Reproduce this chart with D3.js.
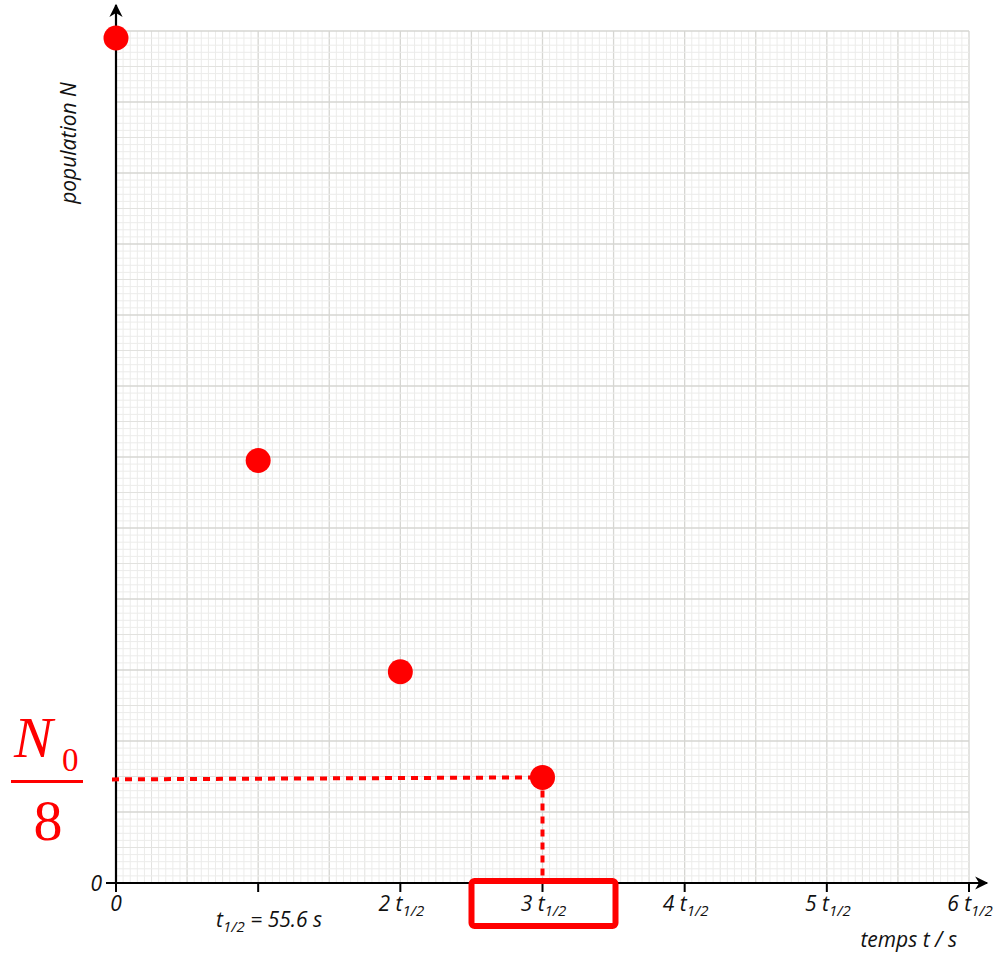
<!DOCTYPE html>
<html>
<head>
<meta charset="utf-8">
<script src="https://cdn.jsdelivr.net/npm/d3@7"></script>
<style>
  body { margin: 0; background: #fff; }
</style>
</head>
<body>
<div id="chart"></div>
<script>
// decay of a population, sampled every half-life
var halfLives = [0, 1, 2, 3];                 // t in units of t1/2
var population = [1, 0.5, 0.25, 0.125];       // N / N0
var tickValues = [0, 1, 2, 3, 4, 5, 6];
var tickLabels = ["0", "", "2", "3", "4", "5", "6"];
var highlightIndex = 3;

var sans = "'Open Sans', sans-serif";
var serif = "'Liberation Serif', serif";

var svg = d3.select("#chart").append("svg")
    .attr("width", 1002)
    .attr("height", 956);

// scales
var x = d3.scaleLinear().domain([0, 6]).range([116, 969]);
var y = d3.scaleLinear().domain([0, 1]).range([883, 38]);
// graph paper: 120 minor squares each way
var gx = d3.scaleLinear().domain([0, 120]).range([116, 969]);
var gy = d3.scaleLinear().domain([0, 120]).range([883, 31]);

// graph paper grid
var grid = svg.append("g");
var steps = d3.range(0, 121);
var gridColor = d => d % 10 == 0 ? "#d6d6d2" : (d % 5 == 0 ? "#e2e2df" : "#ececea");
grid.selectAll("line.vx")
    .data(steps)
    .join("line")
    .attr("x1", d => gx(d)).attr("x2", d => gx(d))
    .attr("y1", gy(0)).attr("y2", gy(120))
    .attr("stroke", gridColor)
    .attr("stroke-width", d => d % 10 == 0 ? 1.3 : 1);
grid.selectAll("line.hy")
    .data(steps)
    .join("line")
    .attr("y1", d => gy(d)).attr("y2", d => gy(d))
    .attr("x1", gx(0)).attr("x2", gx(120))
    .attr("stroke", gridColor)
    .attr("stroke-width", d => d % 10 == 0 ? 1.3 : 1);

// arrow marker
svg.append("defs").append("marker")
    .attr("id", "arrow")
    .attr("viewBox", "0 0 10 10")
    .attr("refX", 9).attr("refY", 5)
    .attr("markerWidth", 7).attr("markerHeight", 6)
    .attr("markerUnits", "strokeWidth")
    .attr("orient", "auto")
    .append("path")
    .attr("d", "M0,0 L10,5 L0,10 L3,5 Z")
    .attr("fill", "#000");

// axes
svg.append("line")
    .attr("x1", x(0)).attr("x2", 987)
    .attr("y1", y(0)).attr("y2", y(0))
    .attr("stroke", "#000").attr("stroke-width", 2.2)
    .attr("marker-end", "url(#arrow)");
svg.append("line")
    .attr("x1", x(0)).attr("x2", x(0))
    .attr("y1", y(0) + 1).attr("y2", 5)
    .attr("stroke", "#000").attr("stroke-width", 2.2)
    .attr("marker-end", "url(#arrow)");
svg.append("line")
    .attr("x1", x(0) - 10).attr("x2", x(0))
    .attr("y1", y(0)).attr("y2", y(0))
    .attr("stroke", "#000").attr("stroke-width", 2);

// x ticks
svg.selectAll("line.tick")
    .data(tickValues)
    .join("line")
    .attr("x1", d => x(d)).attr("x2", d => x(d))
    .attr("y1", y(0)).attr("y2", y(0) + 9)
    .attr("stroke", "#000").attr("stroke-width", 2);

var lbl = svg.selectAll("text.xl")
    .data(tickValues.filter((d, i) => tickLabels[i] != ""))
    .join("text")
    .attr("x", d => x(d))
    .attr("y", 911)
    .attr("text-anchor", "middle")
    .style("font-family", sans)
    .style("font-size", "21px")
    .style("font-style", "italic")
    .attr("fill", "#111");
lbl.each(function (d, i) {
    var t = d3.select(this);
    var s = tickLabels[tickValues.indexOf(d)];
    if (d == 0) { t.text(s); return; }
    t.attr("dx", 1);
    t.append("tspan").text(s + " t");
    t.append("tspan").style("font-size", "15px").attr("dy", 5).text("1/2");
});

// y zero label
svg.append("text")
    .attr("x", 102).attr("y", 891)
    .attr("text-anchor", "end")
    .style("font-family", sans)
    .style("font-size", "21px").style("font-style", "italic")
    .attr("fill", "#111")
    .text("0");

// half-life value
var hl = svg.append("text")
    .attr("x", 216).attr("y", 927)
    .style("font-family", sans)
    .style("font-size", "21px").style("font-style", "italic")
    .attr("fill", "#111");
hl.append("tspan").text("t");
hl.append("tspan").style("font-size", "15px").attr("dy", 5).text("1/2");
hl.append("tspan").attr("dy", -5).text(" = 55.6 s");

// axis titles
svg.append("text")
    .attr("x", 957).attr("y", 947)
    .attr("text-anchor", "end")
    .style("font-family", sans)
    .style("font-size", "21px").style("font-style", "italic")
    .attr("fill", "#111")
    .text("temps t / s");
svg.append("text")
    .attr("transform", "translate(76,143) rotate(-90)")
    .attr("text-anchor", "middle")
    .style("font-family", sans)
    .style("font-size", "21px").style("font-style", "italic")
    .attr("fill", "#111")
    .text("population N");

// guide lines to the highlighted point
var hx = x(halfLives[highlightIndex]), hy = y(population[highlightIndex]);
svg.append("line")
    .attr("x1", 112).attr("x2", hx)
    .attr("y1", hy + 2).attr("y2", hy)
    .attr("stroke", "#ff0000").attr("stroke-width", 4)
    .attr("stroke-dasharray", "7,6");
svg.append("line")
    .attr("x1", hx).attr("x2", hx)
    .attr("y1", hy).attr("y2", y(0))
    .attr("stroke", "#ff0000").attr("stroke-width", 4)
    .attr("stroke-dasharray", "7,6");

// points
svg.selectAll("circle.pt")
    .data(halfLives)
    .join("circle")
    .attr("cx", d => x(d))
    .attr("cy", (d, i) => y(population[i]))
    .attr("r", 12.5)
    .attr("fill", "#ff0000");

// highlight box round the 3 t1/2 label
svg.append("rect")
    .attr("x", hx - 71).attr("y", 881)
    .attr("width", 144).attr("height", 45)
    .attr("rx", 3)
    .attr("fill", "none")
    .attr("stroke", "#ff0000").attr("stroke-width", 6);

// N0/8 label
var frac = svg.append("g").attr("fill", "#ff0000");
frac.append("text")
    .attr("x", 14).attr("y", 757)
    .style("font-family", serif)
    .style("font-style", "italic")
    .style("font-size", "58px")
    .text("N");
frac.append("text")
    .attr("x", 62).attr("y", 771)
    .style("font-family", serif)
    .style("font-size", "33px")
    .text("0");
frac.append("rect")
    .attr("x", 11).attr("y", 780)
    .attr("width", 72).attr("height", 3);
frac.append("text")
    .attr("x", 48).attr("y", 840)
    .attr("text-anchor", "middle")
    .style("font-family", serif)
    .style("font-size", "58px")
    .text("8");
</script>
</body>
</html>
